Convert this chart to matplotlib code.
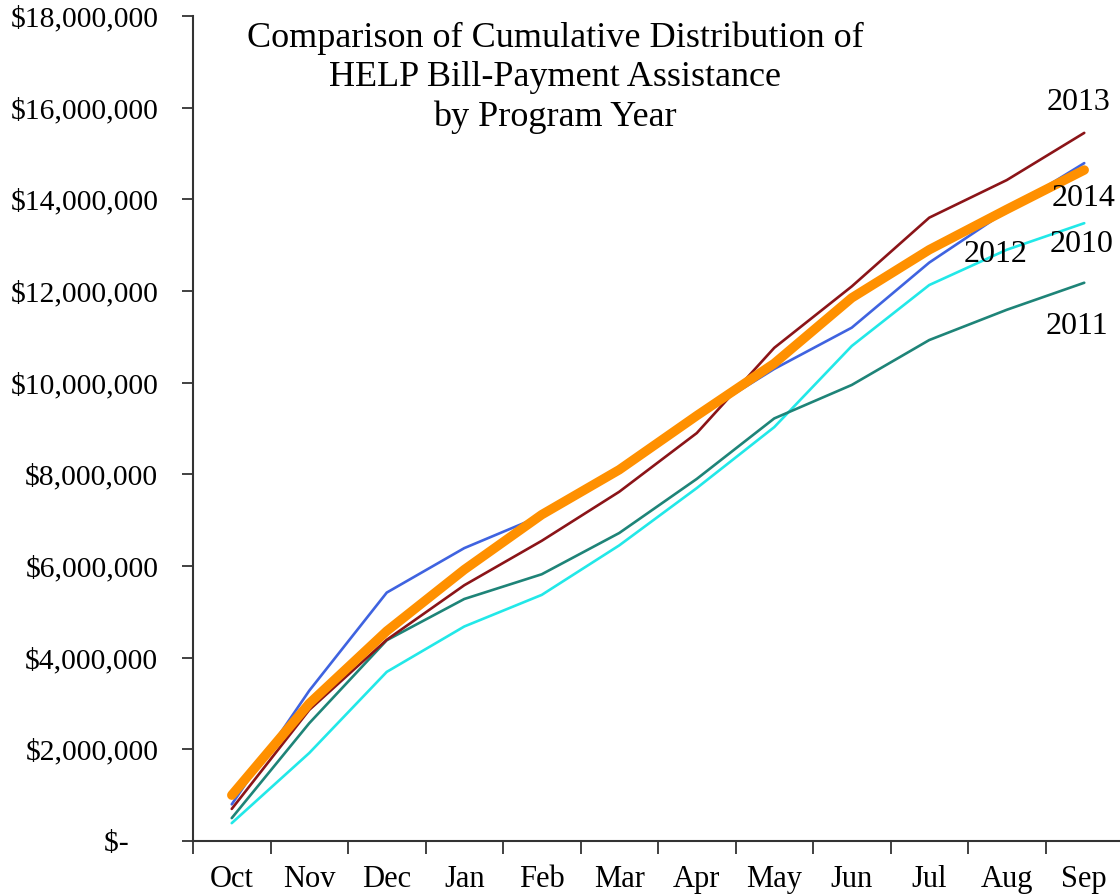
import matplotlib
matplotlib.use("Agg")
import matplotlib.pyplot as plt
from matplotlib.ticker import FixedLocator, FuncFormatter

months = ["Oct", "Nov", "Dec", "Jan", "Feb", "Mar", "Apr", "May", "Jun", "Jul", "Aug", "Sep"]
y2010 = [0.39, 1.92, 3.69, 4.68, 5.37, 6.45, 7.70, 9.03, 10.80, 12.13, 12.90, 13.48]
y2011 = [0.50, 2.57, 4.38, 5.28, 5.82, 6.72, 7.90, 9.22, 9.95, 10.93, 11.59, 12.18]
y2012 = [0.80, 3.28, 5.42, 6.39, 7.10, 8.10, 9.25, 10.30, 11.20, 12.62, 13.75, 14.79]
y2013 = [0.70, 2.86, 4.39, 5.58, 6.55, 7.62, 8.90, 10.76, 12.10, 13.60, 14.42, 15.45]
y2014 = [1.00, 3.00, 4.58, 5.92, 7.12, 8.10, 9.28, 10.42, 11.85, 12.90, 13.78, 14.64]

yticks = [0, 2, 4, 6, 8, 10, 12, 14, 16, 18]
title = "Comparison of Cumulative Distribution of\nHELP Bill-Payment Assistance\nby Program Year"

plt.rcParams['font.family'] = ['Liberation Serif', 'DejaVu Serif']

fig = plt.figure(figsize=(11.2, 8.94), dpi=100)
ax = fig.add_axes([193/1120, 53/894, 930/1120, 825/894])

x = list(range(len(months)))
series = [
    (y2010, "#22E8E8", 1.9),
    (y2011, "#1E8478", 1.9),
    (y2012, "#3F63E0", 1.9),
    (y2013, "#8B1418", 1.9),
    (y2014, "#FF9000", 6.8),
]
for vals, col, lw in series:
    ax.plot(x, [v * 1e6 for v in vals], color=col, lw=lw, solid_capstyle='round', solid_joinstyle='round')

ax.set_xlim(-0.5, 11.5)
ax.set_ylim(0, 18e6)
ax.spines['top'].set_visible(False)
ax.spines['right'].set_visible(False)
for s in ('left', 'bottom'):
    ax.spines[s].set_linewidth(1.5)
    ax.spines[s].set_color('#333333')

ax.yaxis.set_major_locator(FixedLocator([v * 1e6 for v in yticks]))
ax.yaxis.set_major_formatter(FuncFormatter(lambda v, p: "$-    " if v == 0 else "${:,.0f}".format(v)))
ax.tick_params(axis='y', labelsize=21.3, length=8, width=1.3, pad=17, color='#333333')

ax.xaxis.set_major_locator(FixedLocator([i - 0.5 for i in range(len(months) + 1)]))
ax.xaxis.set_major_formatter(FuncFormatter(lambda v, p: ""))
ax.xaxis.set_minor_locator(FixedLocator(x))
ax.set_xticklabels(months, minor=True)
ax.tick_params(axis='x', which='major', length=9, width=1.3, color='#333333')
ax.tick_params(axis='x', which='minor', length=0, labelsize=22, pad=17)

fig.text(555/1120, 1 - 78/894, title, ha='center', va='center', fontsize=26, linespacing=1.25)

labels = [("2013", 1079, 102), ("2014", 1084, 198), ("2010", 1082, 245), ("2011", 1077, 327), ("2012", 996, 254)]
for t, px, py in labels:
    fig.text(px/1120, 1 - py/894, t, ha='center', va='center', fontsize=23)

fig.savefig("out.png", dpi=100)
